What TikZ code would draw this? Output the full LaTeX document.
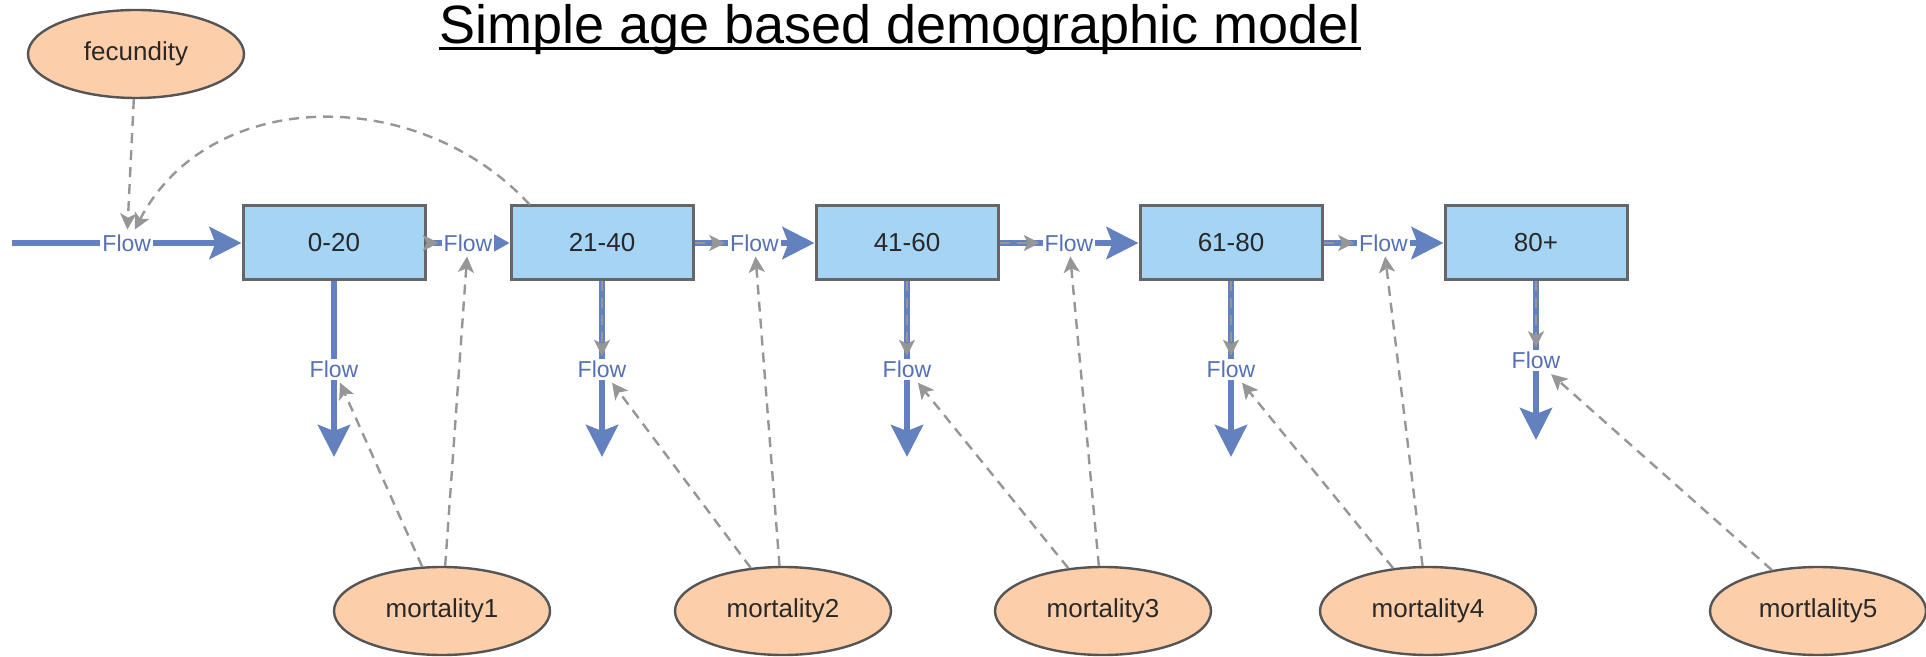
\documentclass[tikz,border=0pt]{standalone}
\usepackage{fontspec}
\setmainfont{Liberation Sans}
\usetikzlibrary{arrows.meta,shapes.geometric}

\begin{document}
\begin{tikzpicture}[x=0.5pt,y=-0.5pt,
    stock/.style={draw=boxedge, fill=boxblue, line width=1.5pt, minimum width=91pt, minimum height=37pt, inner sep=0pt, text=textgrey, font=\fontsize{13}{15}\selectfont},
    param/.style={ellipse, draw=ovaledge, fill=peach, line width=1.2pt, minimum width=108pt, minimum height=44pt, inner sep=0pt, text=textgrey, font=\fontsize{13}{15}\selectfont},
    flowlabel/.style={fill=white, inner sep=1pt, text=flowtext, font=\fontsize{11.5}{13}\selectfont},
    pipe/.style={draw=pipeblue, line width=3pt, -{Stealth[length=16pt,width=16pt,inset=3pt]}},
    link/.style={draw=linkgrey, line width=1.2pt, dash pattern=on 5pt off 3.5pt, -{Stealth[length=8pt,width=8pt,inset=2pt]}}]
    % Define colors
    \definecolor{boxblue}{RGB}{166,212,245}
    \definecolor{boxedge}{RGB}{102,102,102}
    \definecolor{peach}{RGB}{253,206,170}
    \definecolor{ovaledge}{RGB}{85,85,85}
    \definecolor{pipeblue}{RGB}{99,129,191}
    \definecolor{flowtext}{RGB}{85,112,181}
    \definecolor{linkgrey}{RGB}{150,150,150}
    \definecolor{textgrey}{RGB}{40,40,40}

    \useasboundingbox (0,0) rectangle (1926,657);

    % Title
    \node[inner sep=0pt, anchor=base, text=black, font=\fontsize{27}{30}\selectfont] (title) at (900,44) {Simple age based demographic model};
    \draw[line width=1.5pt] ([yshift=-2.5pt]title.base west) -- ([yshift=-2.5pt]title.base east);

    % Age groups
    \node[stock] (b1) at (334,243) {0-20};
    \node[stock] (b2) at (602,243) {21-40};
    \node[stock] (b3) at (907,243) {41-60};
    \node[stock] (b4) at (1231,243) {61-80};
    \node[stock] (b5) at (1536,243) {80+};

    % Parameters
    \node[param] (fec) at (136,54) {fecundity};
    \node[param] (m1) at (442,611) {mortality1};
    \node[param] (m2) at (783,611) {mortality2};
    \node[param] (m3) at (1103,611) {mortality3};
    \node[param] (m4) at (1428,611) {mortality4};
    \node[param] (m5) at (1818,611) {mortlality5};

    % Births
    \coordinate (src) at (12,243);
    \draw[pipe] (src) -- node[flowlabel] (f0) {Flow} (b1.west);

    % Ageing flows
    \draw[pipe, -{Stealth[length=9pt,width=10pt,inset=2pt]}] (b1.east) -- node[flowlabel] (f1) {Flow} (b2.west);
    \draw[pipe] (b2.east) -- node[flowlabel] (f2) {Flow} (b3.west);
    \draw[pipe] (b3.east) -- node[flowlabel] (f3) {Flow} (b4.west);
    \draw[pipe] (b4.east) -- node[flowlabel] (f4) {Flow} (b5.west);

    % Deaths
    \coordinate (d1) at (334,457);
    \coordinate (d2) at (602,457);
    \coordinate (d3) at (907,457);
    \coordinate (d4) at (1231,457);
    \coordinate (d5) at (1536,440);
    \draw[pipe] (b1.south) -- node[flowlabel] (fd1) {Flow} (d1);
    \draw[pipe] (b2.south) -- node[flowlabel] (fd2) {Flow} (d2);
    \draw[pipe] (b3.south) -- node[flowlabel] (fd3) {Flow} (d3);
    \draw[pipe] (b4.south) -- node[flowlabel] (fd4) {Flow} (d4);
    \draw[pipe] (b5.south) -- node[flowlabel] (fd5) {Flow} (d5);

    % Links from the stocks
    \draw[link] (b1.east) -- (f1);
    \draw[link] (b2.east) -- (f2);
    \draw[link] (b3.east) -- (f3);
    \draw[link] (b4.east) -- (f4);
    \draw[link] (b2.south) -- (fd2);
    \draw[link] (b3.south) -- (fd3);
    \draw[link] (b4.south) -- (fd4);
    \draw[link] (b5.south) -- (fd5);
    \draw[link] ([xshift=10pt]b2.north west) .. controls (420,85) and (210,85) .. ([xshift=4pt]f0.north);

    % Links from the parameters
    \draw[link] (fec) -- (f0);
    \draw[link] (m1) -- (fd1);
    \draw[link] (m1) -- (f1);
    \draw[link] (m2) -- (fd2);
    \draw[link] (m2) -- (f2);
    \draw[link] (m3) -- (fd3);
    \draw[link] (m3) -- (f3);
    \draw[link] (m4) -- (fd4);
    \draw[link] (m4) -- (f4);
    \draw[link] (m5) -- (fd5);
\end{tikzpicture}
\end{document}
